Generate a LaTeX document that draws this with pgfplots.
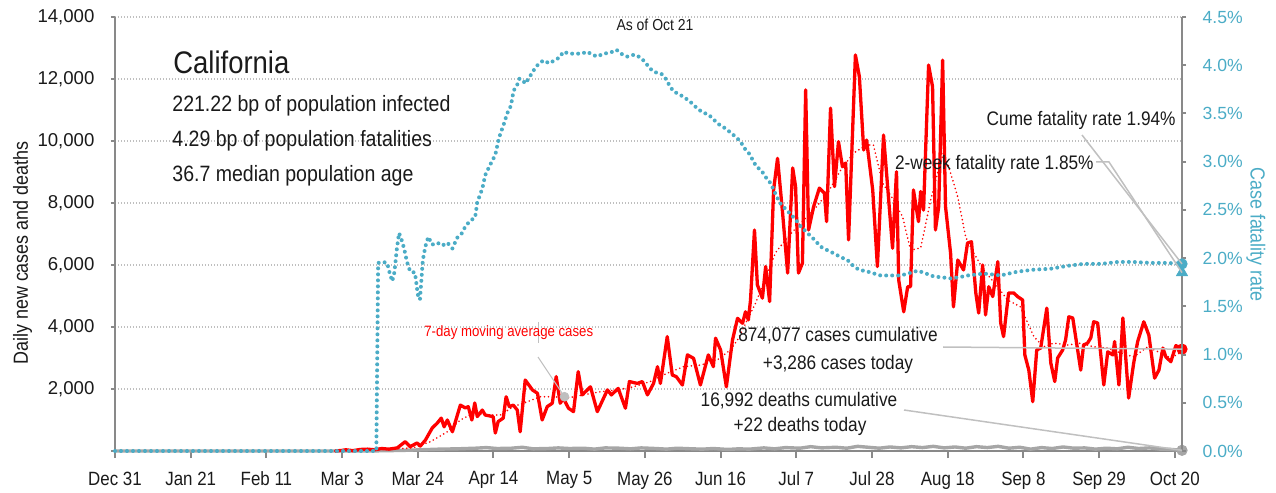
\documentclass[border=0pt]{standalone}
\usepackage{pgfplots}
\pgfplotsset{compat=1.18}
\usepackage{fontspec}
\setmainfont{Liberation Sans}
\newfontfamily\cond{Liberation Sans}[FakeStretch=0.88]
\definecolor{cfrblue}{HTML}{4BACC6}
\definecolor{axisgray}{HTML}{898989}
\definecolor{gridgray}{HTML}{BFBFBF}
\definecolor{deathgray}{HTML}{A6A6A6}
\definecolor{leadgray}{HTML}{C0C0C0}
\definecolor{txt}{HTML}{1A1A1A}
\newcommand{\fs}[1]{\fontsize{#1}{#1}\selectfont}
\begin{document}
\begin{tikzpicture}
\path[use as bounding box] (0,0) rectangle (638pt,246.5pt);
\begin{axis}[
  at={(57.5pt,21pt)}, anchor=south west, scale only axis,
  width=533.5pt, height=217pt,
  xmin=0, xmax=296, ymin=0, ymax=14000,
  scaled y ticks=false, scaled x ticks=false,
  axis x line*=bottom, axis y line*=left,
  axis line style={draw=axisgray, line width=1pt},
  tick align=outside,
  xtick={0,21,...,294},
  xticklabels={Dec 31,Jan 21,Feb 11,Mar 3,Mar 24,Apr 14,May 5,May 26,Jun 16,Jul 7,Jul 28,Aug 18,Sep 8,Sep 29,Oct 20},
  xtick style={draw=axisgray, line width=1pt, /pgfplots/major tick length=3.5pt},
  ytick style={draw=axisgray, line width=1pt, /pgfplots/major tick length=2pt},
  ytick={0,2000,...,14000},
  yticklabels={{},{2,000},{4,000},{6,000},{8,000},{10,000},{12,000},{14,000}},
  xticklabel style={font=\cond\fs{9.6pt}, text=txt, yshift=-2.5pt},
  yticklabel style={font=\fs{9.3pt}, text=txt, xshift=-2.5pt},
  ymajorgrids,
  major grid style={draw=gridgray, line width=0.6pt, dash pattern=on 0.6pt off 0.9pt},
  clip=false,
]
% deaths
\addplot[deathgray, line width=1.7pt, line join=round] coordinates {
(0,0)(70,0)(75,10)(80,20)(85,40)(90,60)(95,70)(100,90)(103,110)(106,80)(110,90)(113,120)(116,70)(120,80)(123,100)(126,80)(130,90)(133,60)(136,100)(140,90)(143,70)(146,100)(150,80)(153,60)(156,90)(160,70)(163,60)(166,80)(170,50)(173,70)(176,60)(180,100)(183,70)(186,110)(190,90)(193,140)(196,100)(200,120)(203,90)(206,150)(209,120)(212,90)(215,130)(218,100)(221,140)(224,110)(227,150)(230,100)(233,130)(236,90)(239,140)(242,110)(245,150)(248,90)(251,120)(254,60)(257,110)(260,80)(263,130)(266,90)(269,100)(272,60)(275,90)(278,70)(281,120)(284,80)(287,100)(290,60)(293,50)(296,22)};
% daily cases
\addplot[red, line width=1.65pt, line join=round] coordinates {
(61,0)(63,20)(64,40)(66,10)(68,50)(70,60)(72,40)(74,80)(76,60)(78.3,100)(80.5,300)(81.9,140)(83.8,260)(84.7,160)(86.1,350)(88,740)(89.4,900)(90.5,1060)(91.3,780)(92.2,1000)(93.6,620)(95.8,1480)(97.2,1390)(98,1430)(99,1000)(99.8,1550)(100.5,1110)(101.9,1320)(102.7,1160)(104.9,1110)(105.5,580)(106.3,950)(107.7,1060)(108.5,1750)(109.4,1430)(110.5,1480)(111.6,1320)(112.4,620)(113.8,2290)(115.8,1970)(117.2,1860)(118.5,1000)(119.9,1430)(121.3,1540)(122.4,2400)(123.5,1540)(124.4,1700)(125.8,1380)(127.2,1270)(128.5,2560)(129.6,1810)(131.9,2070)(133.8,1270)(136.6,1970)(137.7,1810)(139.6,2020)(141.6,1380)(142.7,2240)(144.9,2180)(146.3,2240)(147.7,1810)(149.4,2180)(150.5,2720)(151.3,2180)(153.2,3690)(154.6,2450)(155.7,2400)(157.4,2130)(158.8,3100)(160.5,2990)(162.4,2130)(164.6,3100)(166,2720)(166.6,3640)(168,3260)(169.6,2070)(171.3,3580)(172.7,4280)(174.1,4120)(174.9,4490)(175.7,4230)(176.3,4870)(177.4,7130)(178.2,5360)(179.6,4930)(180.5,5950)(181.6,4820)(182.7,8420)(183.8,9440)(185.2,7680)(186.6,5740)(188,9130)(188.8,8530)(189.6,5740)(190.7,6060)(191.6,11650)(192.4,7130)(193.8,7880)(195.4,8480)(196.8,8320)(197.4,7400)(198.5,11060)(199.6,8530)(200.7,9980)(201.8,9170)(202.7,9290)(203.5,6810)(205.4,12775)(206.5,12075)(207.7,9710)(208.5,10030)(210.2,8420)(211.5,5950)(213.2,10190)(215.7,6540)(216.8,9010)(217.4,5520)(218.8,4490)(219.9,5300)(220.7,5300)(221.5,8420)(222.9,7400)(223.5,8370)(224.3,7770)(225.7,12450)(226.8,11750)(227.6,7130)(228.5,7880)(229.6,12610)(230.4,7880)(231.8,6380)(232.6,4650)(233.8,6160)(235.4,5840)(236.5,6710)(237.6,6750)(238.8,5100)(239.6,4450)(240.7,6000)(241.5,4390)(242.4,5300)(243.5,4980)(244.9,6110)(245.7,4130)(246.5,3690)(247.9,5100)(249.3,5100)(250.4,4980)(251.8,4870)(252.4,3100)(253.5,2610)(254.6,1590)(255.7,3260)(256.8,3320)(258.5,4610)(259.6,2840)(260.7,2240)(261.5,3000)(262.9,3260)(263.7,3580)(264.6,4330)(265.7,4290)(267.9,2610)(268.7,3420)(269.8,3480)(270.7,3650)(271.5,4170)(272.6,4130)(274.3,2130)(275.4,3200)(276.8,3100)(277.3,3530)(278.5,2130)(279.6,4290)(281.2,1710)(282.6,2840)(283.7,3530)(285.4,4170)(286.8,3740)(288.4,2350)(289.6,2610)(290.7,3320)(291.5,3040)(292.9,2880)(294.3,3400)(296,3286)};
% 7-day moving average
\addplot[red, line width=0.9pt, line cap=round, dash pattern=on 0pt off 2pt] coordinates {
(61,0)(70,30)(76,60)(82.7,100)(87.5,300)(92.2,620)(95.8,1000)(99.4,1220)(103.3,1160)(106.9,1160)(110.5,1430)(114.4,1590)(118,1750)(121.6,1750)(125.5,1710)(129.9,1810)(134.6,1910)(139.4,1970)(143.8,2070)(148.5,2240)(153.2,2510)(157.7,2720)(162.4,2770)(167.1,2940)(170.7,3260)(172.7,3580)(177.7,4770)(183.2,6390)(186.6,6900)(190.2,7350)(193.8,7770)(197.7,8320)(201.3,9060)(204.9,9610)(206.8,9750)(208.8,9870)(210.4,9870)(212.9,8650)(216,8100)(218.5,7550)(220.7,6480)(223.5,6550)(226.3,8100)(228.2,8970)(229.9,9650)(231.8,8970)(233.8,8190)(236,6900)(238.2,6390)(241,5840)(244.9,5290)(247.6,4870)(251.2,4650)(253.2,4130)(254.9,3690)(257.6,3360)(260.4,3480)(264.3,3420)(267.9,3480)(271.5,3360)(275.4,3320)(279,3160)(282.6,3040)(286.5,3360)(290.1,3160)(292.9,3000)(296,3200)};
% end markers
\addplot[only marks, mark=*, mark size=2.6pt, red] coordinates {(296,3286)};
\addplot[only marks, mark=*, mark size=2.6pt, deathgray] coordinates {(296,22)};
\addplot[only marks, mark=*, mark size=2.2pt, color=gridgray] coordinates {(124.7,1750)};
\coordinate (rc) at (axis cs:296,3286);
\coordinate (gc) at (axis cs:296,22);
\coordinate (ma) at (axis cs:124.7,1750);
\end{axis}
\begin{axis}[
  at={(57.5pt,21pt)}, anchor=south west, scale only axis,
  width=533.5pt, height=217pt,
  xmin=0, xmax=296, ymin=0, ymax=4.5,
  scaled y ticks=false,
  axis x line=none, axis y line*=right,
  axis line style={draw=axisgray, line width=1pt},
  tick align=outside,
  ytick style={draw=axisgray, line width=1pt, /pgfplots/major tick length=2pt},
  ytick={0,0.5,...,4.5},
  yticklabels={0.0\%,0.5\%,1.0\%,1.5\%,2.0\%,2.5\%,3.0\%,3.5\%,4.0\%,4.5\%},
  yticklabel style={font=\fs{8.8pt}, text=cfrblue, xshift=2.5pt},
  clip=false,
]
\addplot[cfrblue, line width=2pt, line cap=round, dash pattern=on 0pt off 3pt] coordinates {
(0,0)(72.5,0)(73,1.95)(74.4,1.96)(75.5,1.95)(76.1,1.86)(76.9,1.76)(77.5,1.85)(78.2,2.10)(78.8,2.26)(79.5,2.19)(80.2,2.10)(81,1.96)(81.9,1.86)(83.2,1.85)(84.1,1.60)(84.6,1.57)(85.4,1.98)(86.1,2.12)(86.9,2.22)(88,2.14)(89.4,2.16)(90.8,2.13)(92.2,2.16)(93.6,2.10)(94.9,2.21)(96.3,2.26)(97.2,2.33)(98.6,2.39)(99.9,2.42)(100.5,2.58)(101.9,2.72)(102.7,2.86)(104.1,2.97)(105.5,3.07)(106.3,3.21)(106.9,3.29)(107.7,3.37)(108.8,3.50)(109.7,3.57)(110.2,3.65)(110.5,3.73)(111.6,3.80)(112.2,3.86)(113,3.85)(113.8,3.81)(114.9,3.87)(116,3.94)(117.2,4.00)(118.8,4.05)(120.5,4.02)(121.9,4.05)(123.3,4.08)(124.4,4.14)(126,4.12)(127.7,4.12)(129.4,4.12)(131,4.14)(132.4,4.11)(133.8,4.09)(135.5,4.12)(137.4,4.13)(139.1,4.16)(140.8,4.11)(142.1,4.09)(144.1,4.11)(145.8,4.08)(147.1,4.03)(148.3,3.97)(149.6,3.93)(151.6,3.91)(153,3.85)(153.8,3.79)(154.9,3.73)(156.9,3.69)(158.2,3.66)(159.9,3.61)(161.3,3.56)(163,3.51)(164.6,3.49)(166,3.44)(167.4,3.39)(169.1,3.35)(170.5,3.31)(172.1,3.26)(173.5,3.21)(174.6,3.14)(176,3.08)(177.9,2.95)(179.3,2.91)(180.5,2.84)(181.8,2.78)(182.7,2.71)(184.3,2.58)(185.5,2.53)(186.8,2.48)(188.8,2.40)(190.2,2.33)(192.1,2.26)(194.3,2.18)(195.7,2.12)(197.7,2.08)(199.9,2.04)(201.3,2.01)(203.2,1.98)(204.5,1.93)(206.3,1.88)(208.8,1.86)(212.4,1.82)(215,1.82)(217.9,1.82)(220,1.84)(222.7,1.87)(225,1.84)(227.1,1.81)(229.5,1.80)(231.8,1.79)(234,1.80)(236.5,1.82)(239,1.83)(241,1.84)(243.5,1.83)(245.7,1.82)(248,1.84)(250.4,1.86)(254.9,1.88)(259.6,1.89)(264.3,1.92)(268.7,1.94)(273.5,1.94)(278.2,1.96)(282.6,1.96)(287.3,1.95)(292.1,1.95)(296,1.94)};
\addplot[only marks, mark=*, mark size=2.6pt, cfrblue] coordinates {(296,1.94)};
\addplot[only marks, mark=triangle*, mark size=3.2pt, cfrblue] coordinates {(296,1.85)};
\coordinate (bc) at (axis cs:296,1.94);
\coordinate (bt) at (axis cs:296,1.85);
\end{axis}
% leaders
\draw[leadgray, line width=0.75pt] (471.5pt,73pt) -- (rc);
\draw[leadgray, line width=0.75pt] (452pt,41.5pt) -- (gc);
\draw[leadgray, line width=0.75pt] (541pt,179pt) -- (bc);
\draw[leadgray, line width=0.75pt] (548pt,165.5pt) -- (554.5pt,165.5pt) -- (bt);
\draw[leadgray, line width=0.5pt] (269pt,85.5pt) -- (269pt,75pt);
\draw[leadgray, line width=0.5pt] (269pt,68pt) -- (ma);
% texts
\node[anchor=base west, inner sep=0pt, text=txt, font=\cond\fs{15.6pt}] at (86.5pt,209.5pt) {California};
\node[anchor=base west, inner sep=0pt, text=txt, font=\cond\fs{11.1pt}] at (86pt,190.5pt) {221.22 bp of population infected};
\node[anchor=base west, inner sep=0pt, text=txt, font=\cond\fs{11.1pt}] at (86pt,173pt) {4.29 bp of population fatalities};
\node[anchor=base west, inner sep=0pt, text=txt, font=\cond\fs{11.1pt}] at (86pt,155.5pt) {36.7 median population age};
\node[anchor=base, inner sep=0pt, text=txt, font=\cond\fs{7.95pt}] at (327.5pt,231pt) {As of Oct 21};
\node[anchor=base west, inner sep=0pt, text=red, font=\cond\fs{7.5pt}] at (212pt,78pt) {7-day moving average cases};
\node[anchor=base, inner sep=0pt, text=txt, font=\cond\fs{9.8pt}] at (419pt,75.5pt) {874,077 cases cumulative};
\node[anchor=base, inner sep=0pt, text=txt, font=\cond\fs{9.8pt}] at (419pt,61.5pt) {+3,286 cases today};
\node[anchor=base, inner sep=0pt, text=txt, font=\cond\fs{9.8pt}] at (399.5pt,43pt) {16,992 deaths cumulative};
\node[anchor=base, inner sep=0pt, text=txt, font=\cond\fs{9.8pt}] at (400pt,30.5pt) {+22 deaths today};
\node[anchor=base east, inner sep=0pt, text=txt, font=\cond\fs{9.8pt}] at (588pt,183.5pt) {Cume fatality rate 1.94\%};
\node[anchor=base east, inner sep=0pt, text=txt, font=\cond\fs{9.8pt}] at (547pt,161.5pt) {2-week fatality rate 1.85\%};
\node[rotate=90, inner sep=0pt, text=txt, font=\cond\fs{10.2pt}] at (11.25pt,120pt) {Daily new cases and deaths};
\node[rotate=-90, inner sep=0pt, text=cfrblue, font=\cond\fs{10.2pt}] at (628pt,129.25pt) {Case fatality rate};
\end{tikzpicture}
\end{document}
